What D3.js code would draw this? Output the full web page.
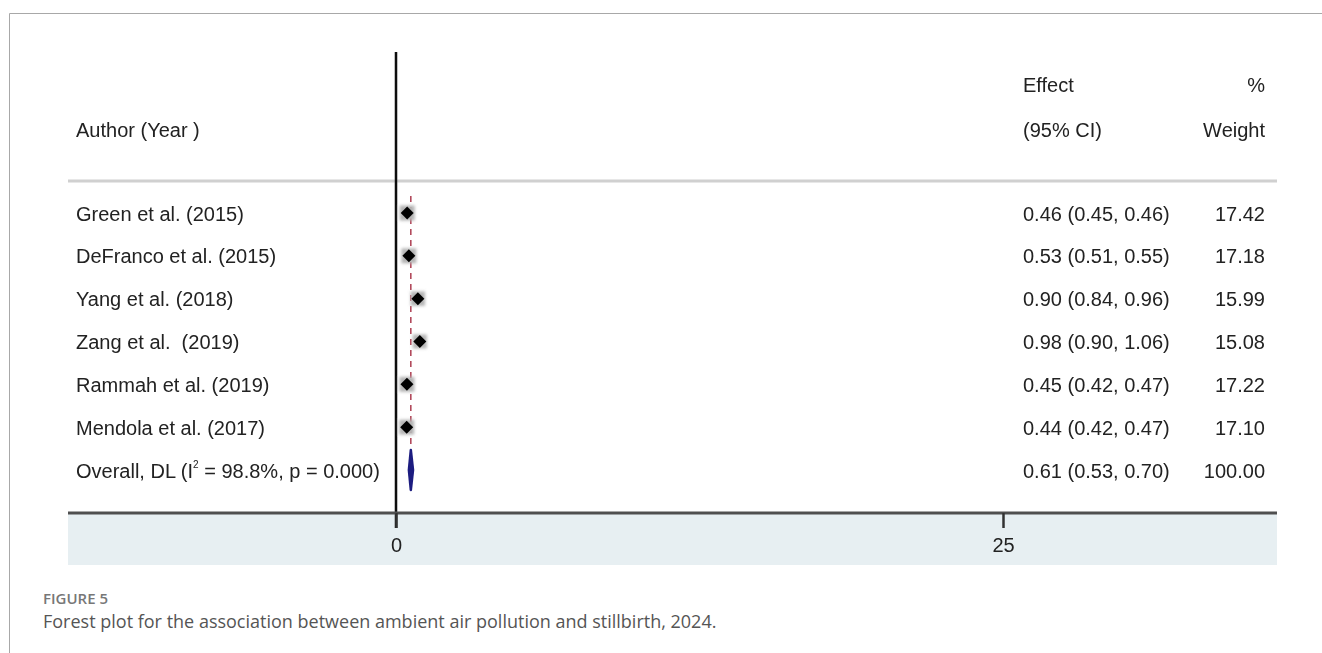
<!DOCTYPE html>
<html>
<head>
<meta charset="utf-8">
<script src="https://cdn.jsdelivr.net/npm/d3@7"></script>
<style>
  body { margin: 0; background: #fff; }
  svg { display: block; }
</style>
</head>
<body>
<svg id="chart" width="1322" height="653"></svg>
<script>
// Study labels and estimates
const studies = [
  "Green et al. (2015)",
  "DeFranco et al. (2015)",
  "Yang et al. (2018)",
  "Zang et al.  (2019)",
  "Rammah et al. (2019)",
  "Mendola et al. (2017)"
];
const effects = [0.46, 0.53, 0.90, 0.98, 0.45, 0.44];
const lowers  = [0.45, 0.51, 0.84, 0.90, 0.42, 0.42];
const uppers  = [0.46, 0.55, 0.96, 1.06, 0.47, 0.47];
const weights = [17.42, 17.18, 15.99, 15.08, 17.22, 17.10];

// Pooled estimate (DerSimonian-Laird)
const overallEffect = 0.61;
const overallLower = 0.53;
const overallUpper = 0.70;
const overallWeight = 100.00;

const xTicks = [0, 25];

const svg = d3.select("#chart");
const W = 1322, H = 653;

const defs = svg.append("defs");
defs.append("filter").attr("id", "soft")
  .append("feGaussianBlur").attr("stdDeviation", 0.55);
defs.append("filter").attr("id", "halo")
  .attr("x", "-50%").attr("y", "-50%").attr("width", "200%").attr("height", "200%")
  .append("feGaussianBlur").attr("stdDeviation", 1.5);

// Figure frame
svg.append("path")
  .attr("d", `M${W},13.5 H9.5 V${H}`)
  .attr("fill", "none")
  .attr("stroke", "#a8a8a8")
  .attr("stroke-width", 1);

const plot = svg.append("g").attr("filter", "url(#soft)");

const x = d3.scaleLinear().domain([0, 25]).range([396, 1003]);
const rows = studies.concat(["overall"]);
const y = d3.scalePoint().domain(d3.range(rows.length)).range([213, 470]);

const font = "Liberation Sans, Arial, sans-serif";
const fs = 20;
const txtColor = "#222";
const base = 7.5;

// Shaded band beneath the axis
plot.append("rect")
  .attr("x", 68).attr("y", 514)
  .attr("width", 1209).attr("height", 51)
  .attr("fill", "#e7eff2");

// Header separator
plot.append("line")
  .attr("x1", 68).attr("x2", 1277)
  .attr("y1", 181).attr("y2", 181)
  .attr("stroke", "#d0d0d0").attr("stroke-width", 3);

// Headers
const header = plot.append("g")
  .attr("font-family", font).attr("font-size", fs).attr("fill", txtColor);
header.append("text").attr("x", 76).attr("y", 137).text("Author (Year )");
header.append("text").attr("x", 1023).attr("y", 92).text("Effect");
header.append("text").attr("x", 1023).attr("y", 137).text("(95% CI)");
header.append("text").attr("x", 1265).attr("y", 92).attr("text-anchor", "end").text("%");
header.append("text").attr("x", 1265).attr("y", 137).attr("text-anchor", "end").text("Weight");

// Null line
plot.append("line")
  .attr("x1", x(0)).attr("x2", x(0))
  .attr("y1", 52).attr("y2", 528)
  .attr("stroke", "#111").attr("stroke-width", 2.5);

// Pooled-effect reference line
plot.append("line")
  .attr("x1", x(overallEffect)).attr("x2", x(overallEffect))
  .attr("y1", 196).attr("y2", 449)
  .attr("stroke", "#b24a5c").attr("stroke-width", 1.6)
  .attr("stroke-dasharray", "6,5");

// Study rows
const rowG = plot.selectAll("g.study")
  .data(studies.map((s, i) => ({ s, e: effects[i], lo: lowers[i], hi: uppers[i], w: weights[i], i })))
  .join("g").attr("class", "study");

const boxScale = d3.scaleSqrt().domain([0, 17.42]).range([0, 15]);
rowG.append("rect")
  .attr("x", d => x(d.e) - boxScale(d.w) / 2)
  .attr("y", d => y(d.i) - boxScale(d.w) / 2)
  .attr("width", d => boxScale(d.w))
  .attr("height", d => boxScale(d.w))
  .attr("fill", "#b4b4b4")
  .attr("filter", "url(#halo)");

rowG.append("line")
  .attr("x1", d => x(d.lo)).attr("x2", d => x(d.hi))
  .attr("y1", d => y(d.i)).attr("y2", d => y(d.i))
  .attr("stroke", "#000").attr("stroke-width", 1);

rowG.append("path")
  .attr("d", d => {
    const cx = x(d.e), cy = y(d.i), r = 6.5;
    return `M${cx},${cy - r} L${cx + r},${cy} L${cx},${cy + r} L${cx - r},${cy} Z`;
  })
  .attr("fill", "#000");

rowG.append("text")
  .attr("x", 76).attr("y", d => y(d.i) + base)
  .attr("font-family", font).attr("font-size", fs).attr("fill", txtColor)
  .attr("xml:space", "preserve")
  .text(d => d.s);

rowG.append("text")
  .attr("x", 1023).attr("y", d => y(d.i) + base)
  .attr("font-family", font).attr("font-size", fs).attr("fill", txtColor)
  .text(d => `${d.e.toFixed(2)} (${d.lo.toFixed(2)}, ${d.hi.toFixed(2)})`);

rowG.append("text")
  .attr("x", 1265).attr("y", d => y(d.i) + base).attr("text-anchor", "end")
  .attr("font-family", font).attr("font-size", fs).attr("fill", txtColor)
  .text(d => d.w.toFixed(2));

// Overall row
const oy = y(studies.length);
plot.append("path")
  .attr("d", `M${x(overallLower)},${oy} L${x(overallEffect)},${oy - 20} L${x(overallUpper)},${oy} L${x(overallEffect)},${oy + 20} Z`)
  .attr("fill", "#1c1c80")
  .attr("stroke", "#1c1c80").attr("stroke-width", 2.5)
  .attr("stroke-linejoin", "round");

const ot = plot.append("text")
  .attr("x", 76).attr("y", oy + base)
  .attr("font-family", font).attr("font-size", fs).attr("fill", txtColor);
ot.append("tspan").text("Overall, DL (I");
ot.append("tspan").attr("font-size", 10).attr("dy", -10).text("2");
ot.append("tspan").attr("dy", 10).text(" = 98.8%, p = 0.000)");

plot.append("text")
  .attr("x", 1023).attr("y", oy + base)
  .attr("font-family", font).attr("font-size", fs).attr("fill", txtColor)
  .text(`${overallEffect.toFixed(2)} (${overallLower.toFixed(2)}, ${overallUpper.toFixed(2)})`);
plot.append("text")
  .attr("x", 1265).attr("y", oy + base).attr("text-anchor", "end")
  .attr("font-family", font).attr("font-size", fs).attr("fill", txtColor)
  .text(overallWeight.toFixed(2));

// X axis
const axisG = plot.append("g").attr("transform", "translate(0,513)");
axisG.append("line")
  .attr("x1", 68).attr("x2", 1277)
  .attr("stroke", "#505050").attr("stroke-width", 3);
const axis = d3.axisBottom(x).tickValues(xTicks).tickSize(15).tickPadding(10).tickFormat(d3.format("d"));
const ag = axisG.append("g").call(axis);
ag.select(".domain").remove();
ag.selectAll(".tick line").attr("stroke", "#333").attr("stroke-width", 2.5);
ag.selectAll(".tick text")
  .attr("font-family", font).attr("font-size", fs).attr("fill", txtColor);

// Caption
svg.append("text")
  .attr("x", 43).attr("y", 604)
  .attr("font-family", "Open Sans, sans-serif").attr("font-size", 15)
  .attr("font-weight", 600)
  .attr("fill", "#777")
  .text("FIGURE 5");
svg.append("text")
  .attr("x", 43).attr("y", 628)
  .attr("font-family", "Open Sans, sans-serif").attr("font-size", 18)
  .attr("fill", "#555")
  .text("Forest plot for the association between ambient air pollution and stillbirth, 2024.");
</script>
</body>
</html>
